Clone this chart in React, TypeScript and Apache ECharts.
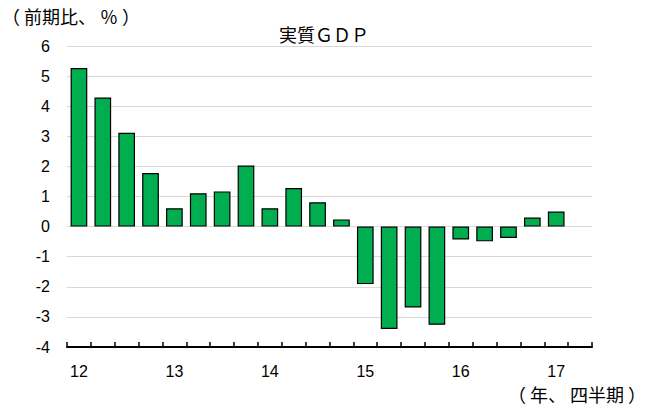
import React, { useEffect, useRef } from "react";
import * as echarts from "echarts";

const years = ["12", "13", "14", "15", "16", "17"];
const quarters = ["1", "2", "3", "4"];
const categories: string[] = [];
years.forEach((y) => quarters.forEach((q) => categories.push(`${y}-${q}`)));
const shownCategories = categories.slice(0, 22);

const gdpValues: (number | null)[] = [
  5.27, 4.29, 3.12, 1.78,
  0.61, 1.11, 1.17, 2.03,
  0.61, 1.28, 0.81, 0.24,
  -1.91, -3.40, -2.69, -3.26,
  -0.43, -0.49, -0.38, 0.30,
  0.50, null,
];

const yTicks = [-4, -3, -2, -1, 0, 1, 2, 3, 4, 5, 6];

const titleText = "実質ＧＤＰ";
const yUnitText = "（ 前期比、 ％ ）";
const xUnitText = "（ 年、 四半期 ）";

const FONT = "'Liberation Sans', 'Noto Sans CJK JP', sans-serif";
const CJK = "'Noto Sans CJK JP', sans-serif";

export default function App() {
  const ref = useRef<HTMLDivElement>(null);
  useEffect(() => {
    document.body.style.margin = "0";
    if (!ref.current) return;
    const chart = echarts.init(ref.current, null, { renderer: "svg" });
    chart.setOption({
      animation: false,
      textStyle: { fontFamily: FONT },
      title: {
        text: titleText,
        left: "center",
        top: 20,
        textStyle: { fontSize: 18, fontWeight: "normal", color: "#000", fontFamily: CJK },
      },
      graphic: [
        {
          type: "text",
          left: 2,
          top: 7,
          style: { text: yUnitText, fontSize: 18, fill: "#000", fontFamily: CJK },
        },
        {
          type: "text",
          right: 2,
          top: 385,
          style: { text: xUnitText, fontSize: 18, fill: "#000", fontFamily: CJK },
        },
      ],
      grid: { left: 67, right: 56, top: 46, bottom: 63 },
      xAxis: {
        type: "category",
        data: shownCategories,
        boundaryGap: true,
        axisLine: { onZero: false, lineStyle: { color: "#000", width: 2 } },
        axisTick: { show: true, inside: true, length: 5, interval: 0, lineStyle: { color: "#000", width: 1.5 } },
        axisLabel: {
          interval: 3,
          margin: 16,
          fontSize: 16,
          color: "#000",
          fontFamily: FONT,
          formatter: (v: string) => v.split("-")[0],
        },
      },
      yAxis: {
        type: "value",
        min: yTicks[0],
        max: yTicks[yTicks.length - 1],
        interval: 1,
        axisLine: { show: false },
        axisTick: { show: false },
        splitLine: { lineStyle: { color: "#d9d9d9", width: 1 } },
        axisLabel: { fontSize: 16, color: "#000", margin: 17, fontFamily: FONT },
      },
      series: [
        {
          type: "bar",
          data: gdpValues,
          barCategoryGap: "30%",
          itemStyle: { color: "#00AD4F", borderColor: "#000", borderWidth: 1.2 },
        },
      ],
    });
    return () => chart.dispose();
  }, []);
  return <div ref={ref} style={{ width: 648, height: 410 }} />;
}
